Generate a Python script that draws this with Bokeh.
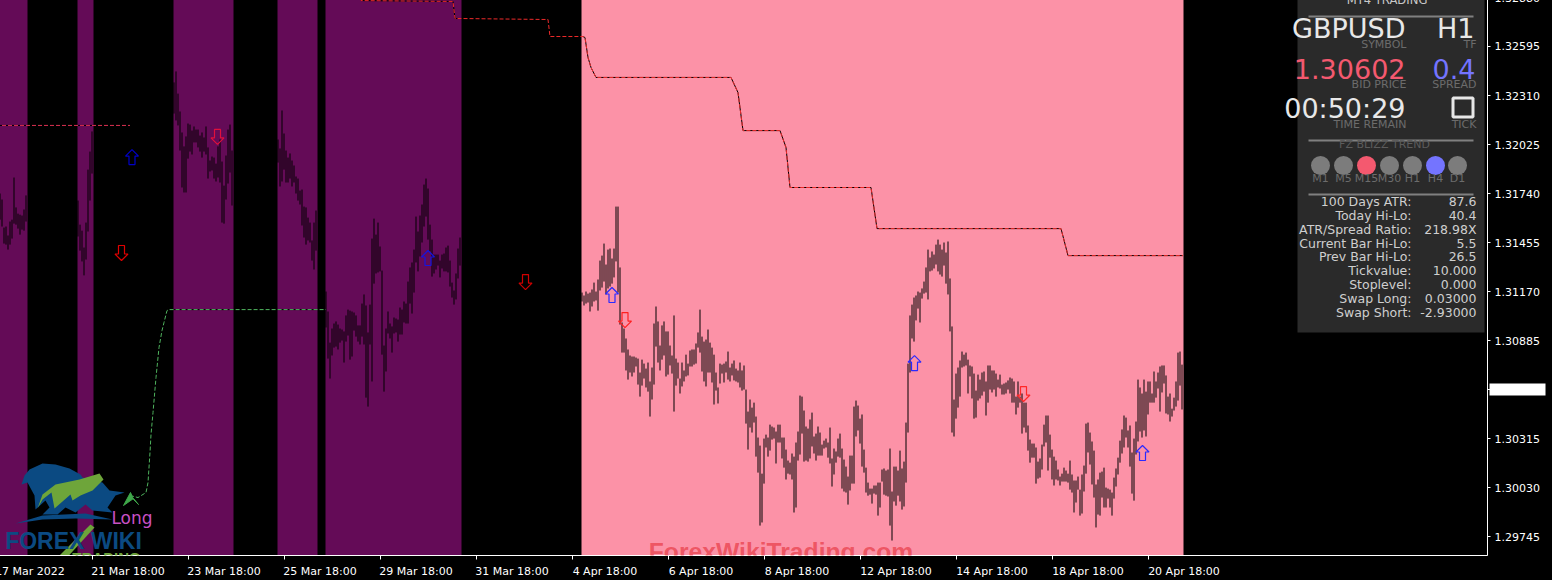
from bokeh.embed import file_html
from bokeh.resources import INLINE
from bokeh.plotting import figure
from bokeh.models import Range1d, FixedTicker, Label, Span, PrintfTickFormatter
import numpy as np

# All prices below are stored as points above 1.29000 (1 point = 0.00001)
BASE = 1.29
PT = 1e-5

session_start = [0, 41, 89, 141, 165, 293]
session_end = [16, 49, 119, 161, 233, 594]
session_color = ["#640b57", "#640b57", "#640b57", "#640b57", "#640b57", "#fc92a7"]

a_start = 0
a_high = [2594,2723,2740,2705,2542,2548,2496,2577,2588,2833,2659,2623,2617,2612,2647,2729]
a_low = [2472,2472,2588,2548,2449,2443,2414,2443,2478,2565,2559,2536,2501,2530,2524,2577]

b_start = 41
b_high = [2699,2559,2524,2426,2571,2879,2984,3101]
b_low = [2490,2408,2345,2264,2356,2519,2699,2856]

c_start = 89
c_high = [3386,3450,3321,3217,3095,3014,3072,3147,3141,3106,3130,3112,3112,3077,3095,3066,3130,3008,2932,2955,2949,2914,3014,3054,2926,2786,2961,3112,3141,2990]
c_low = [3205,3165,3136,2990,2775,2746,2746,2943,2984,2967,3037,3037,3008,2984,2949,2984,2967,2827,2868,2874,2827,2810,2833,2804,2571,2565,2705,2798,2862,2670]

d_start = 141
d_high = [3054,3002,3223,3089,2990,2949,2973,2932,2903,2839,2827,2757,2763,2664,2659,2600,2571,2467,2571,2641]
d_low = [2920,2781,2810,2879,2804,2804,2827,2781,2804,2740,2699,2676,2554,2484,2443,2467,2455,2350,2298,2408]

e_start = 165
e_high = [2170,2054,1873,1955,1984,1996,1978,1955,1949,1938,2031,2065,2059,2054,2048,2031,1973,1973,2100,2153,2089,1932,2094,2478,2594,2501,2571,2432,2292,1856,1955,2054,1984,1967,2019,2013,2007,2077,2065,2112,2100,2228,2310,2339,2414,2606,2519,2612,2676,2792,2827,2769,2559,2472,2385,2385,2385,2350,2385,2391,2426,2437,2350,2222,2176,2275,2420,2484]
e_low = [1961,1780,1664,1798,1844,1850,1833,1873,1885,1757,1879,1914,1774,1792,1943,1908,1879,1862,1908,1862,1553,1501,1862,1647,2216,2275,2281,2287,1803,1588,1705,1926,1897,1815,1926,1932,1879,1920,1920,1990,1984,1984,2100,2042,2164,2339,2287,2374,2455,2548,2606,2472,2403,2257,2275,2298,2321,2252,2304,2287,2287,2281,2199,2135,2094,2124,2246,2321]

f_start = 293
f_high = [2164,2147,2170,2158,2164,2182,2222,2170,2240,2350,2379,2449,2327,2414,2420,2362,2420,2664,2664,2310,
1990,1955,1897,1833,1798,1792,1792,1786,1780,1699,1774,1751,1722,1757,1647,1728,1984,2083,1996,1856,
1973,1996,1938,1938,1856,1798,2031,1780,1757,1664,1757,1711,1803,1751,1827,1833,1833,1868,1932,2065,
1908,1879,1891,1949,1873,1844,1803,1699,1612,1751,1745,1751,1763,1821,1728,1751,1769,1722,1711,1757,
1711,1740,1600,1472,1542,1495,1524,1443,1321,1274,1111,1315,1338,1321,1396,1385,1379,1356,1396,1396,
1321,1321,1251,1187,1175,1228,1210,1292,1356,1565,1559,1478,1385,1373,1426,1466,1327,1344,1385,1350,
1280,1303,1315,1292,1379,1199,1257,1240,1315,1344,1257,1193,1152,1094,1216,1216,1501,1536,1507,1431,
1455,1251,1146,1059,1024,1024,1042,1042,1059,1059,1135,1141,1129,1135,1257,1007,1152,1152,1129,1245,
1141,1181,1408,1751,2031,2094,2135,2147,2170,2164,2188,2228,2310,2414,2368,2403,2385,2443,2472,2443,
2414,2455,2397,2461,2246,1967,1542,1693,1728,1769,1821,1803,1815,1774,1740,1734,1693,1594,1687,1658,
1699,1705,1647,1740,1740,1711,1711,1693,1658,1687,1629,1635,1641,1653,1670,1664,1647,1559,1647,1559,
1577,1524,1524,1391,1309,1286,1286,1263,1181,1199,1280,1396,1449,1449,1338,1251,1210,1187,1135,1094,
1111,1146,1129,1111,1187,1106,1071,1071,1094,1018,1106,1158,1402,1408,1350,1298,1245,1048,1077,1117,
1123,1146,1030,1024,1018,1001,1088,1141,1204,1303,1368,1449,1437,1362,1391,1234,1315,1414,1658,1612,
1577,1658,1588,1647,1647,1577,1705,1647,1699,1734,1740,1740,1682,1559,1577,1489,1553,1647,1815,1821,1745]
f_low = [2112,2089,2100,2106,2054,2083,2112,2118,2059,2176,2193,2228,2153,2188,2199,2216,2252,2345,2164,1978,
1815,1815,1711,1658,1699,1676,1699,1734,1629,1559,1623,1664,1612,1588,1443,1542,1629,1850,1757,1711,
1774,1798,1676,1687,1740,1693,1472,1623,1664,1577,1618,1647,1676,1682,1734,1734,1745,1751,1844,1815,
1705,1647,1618,1699,1699,1641,1513,1594,1519,1635,1693,1641,1699,1658,1647,1682,1653,1647,1641,1612,
1594,1600,1402,1251,1379,1350,1408,1210,1117,809,827,1053,1263,1210,1245,1309,1315,1170,1292,1292,
1199,1146,1077,1111,1106,1077,885,914,1187,1222,1344,1181,1187,1181,1199,1269,1228,1187,1216,1216,
1216,1257,1263,1204,1170,1036,1106,1175,1210,1204,1024,1007,1001,931,1013,1053,1053,1327,1362,1286,
1152,1117,1001,983,989,937,995,989,867,914,1065,989,983,978,809,722,949,925,983,949,
902,920,1059,1350,1699,1897,1879,2002,2071,1990,2129,2158,2164,2124,2287,2292,2304,2327,2287,2269,
2257,2321,2216,2153,1938,1350,1327,1431,1495,1559,1728,1734,1740,1577,1676,1548,1431,1437,1536,1548,
1565,1588,1449,1524,1600,1583,1600,1559,1612,1606,1571,1571,1577,1600,1577,1524,1524,1455,1495,1524,
1344,1379,1350,1245,1175,1204,1204,1053,1082,1088,1135,1269,1292,1129,1204,1077,1042,1077,1071,1042,
1065,1065,1065,1059,1018,1001,885,943,1018,867,879,1007,1111,1234,1164,1048,972,798,873,867,
972,914,914,966,914,867,966,1036,1106,1175,1228,1263,1321,1263,1152,995,954,1222,1298,1356,
1321,1362,1327,1455,1524,1524,1524,1553,1606,1472,1583,1635,1461,1455,1414,1443,1478,1501,1536,1623,1484]

# Stop-line indicator, as three runs of (bar, price)
trend_red_idx = [0, 67]
trend_red_px = [3136, 3136]
trend_green_idx = [67, 71, 75, 76, 77, 77.5, 78.5, 80, 81.5, 83, 84, 85.5, 86.5, 165]
trend_green_px = [984, 972, 1001, 1059, 1234, 1338, 1466, 1670, 1844, 1943, 1990, 2059, 2065, 2065]
trend_upper_idx = [181.5, 182.5, 228.5, 229.5, 276, 277, 293.5, 294.5, 296, 297.5, 300, 367.5, 371, 373.5, 392, 395, 397, 437.5, 440.5, 532.5, 536, 593.5]
trend_upper_px = [3909, 3862, 3857, 3758, 3752, 3653, 3653, 3647, 3531, 3473, 3415, 3415, 3327, 3106, 3106, 3008, 2775, 2775, 2536, 2536, 2379, 2379]

up_idx = [68, 216, 308, 459.25, 573.25]
up_px = [2952, 2365, 2150, 1754, 1231]
up_color = ["#0000c8", "#1414e0", "#2a2aff", "#2a2aff", "#2a2aff"]
down_idx = [62.75, 110.75, 264.75, 314.5, 513.75]
down_px = [2394, 3069, 2225, 2004, 1574]
down_color = ["#e00000", "#e0103c", "#d00000", "#ff2020", "#ff2828"]

x_tick_idx = [0, 48, 96, 144, 192, 240, 288, 336, 384, 432, 480, 528, 576]
x_label_centre = [17, 66, 114, 162, 210, 258, 304.5, 352.5, 400.5, 450, 498, 546, 594]
x_labels = ["17 Mar 2022", "21 Mar 18:00", "23 Mar 18:00", "25 Mar 18:00", "29 Mar 18:00", "31 Mar 18:00",
            "4 Apr 18:00", "6 Apr 18:00", "8 Apr 18:00", "12 Apr 18:00", "14 Apr 18:00", "18 Apr 18:00", "20 Apr 18:00"]
y_ticks = [1.32880, 1.32595, 1.32310, 1.32025, 1.31740, 1.31455, 1.31170, 1.30885, 1.30315, 1.30030, 1.29745]
last_price = 1.30602

stat_names = ["100 Days ATR:", "Today Hi-Lo:", "ATR/Spread Ratio:", "Current Bar Hi-Lo:", "Prev Bar Hi-Lo:",
              "Tickvalue:", "Stoplevel:", "Swap Long:", "Swap Short:"]
stat_values = ["87.6", "40.4", "218.98X", "5.5", "26.5", "10.000", "0.000", "0.03000", "-2.93000"]
tf_names = ["M1", "M5", "M15", "M30", "H1", "H4", "D1"]
tf_colors = ["#7c7c7c", "#7c7c7c", "#f4596f", "#7c7c7c", "#7c7c7c", "#7474ff", "#7c7c7c"]

FRAME_W, FRAME_H = 1492, 563
Y0, Y1 = 1.29635, 1.32909
X0, X1 = -0.25, 745.75

p = figure(width=1560, height=583, frame_width=FRAME_W, frame_height=FRAME_H,
           x_range=Range1d(X0, X1), y_range=Range1d(Y0, Y1),
           y_axis_location="right", toolbar_location=None, output_backend="svg",
           background_fill_color="#000000", border_fill_color="#000000",
           min_border_left=3, min_border_right=65, min_border_top=0, min_border_bottom=20,
           outline_line_color=None, margin=(-8, 0, 0, -8))
p.xgrid.visible = False
p.ygrid.visible = False
p.extra_x_ranges["px"] = Range1d(3, 3 + FRAME_W)
p.extra_y_ranges["px"] = Range1d(FRAME_H, 0)
PXK = dict(x_range_name="px", y_range_name="px")

xa = p.xaxis[0]
xa.ticker = FixedTicker(ticks=x_label_centre, minor_ticks=x_tick_idx)
xa.major_label_overrides = dict(zip(x_label_centre, x_labels))
xa.major_tick_line_color = None
xa.major_tick_in = 0
xa.major_tick_out = 0
xa.minor_tick_line_color = "#ffffff"
xa.minor_tick_in = 0
xa.minor_tick_out = 4
xa.axis_line_color = "#ffffff"
xa.major_label_text_color = "#ffffff"
xa.major_label_text_font = "DejaVu Sans"
xa.major_label_text_font_size = "11px"
xa.major_label_standoff = 5

ya = p.yaxis[0]
ya.ticker = FixedTicker(ticks=y_ticks, minor_ticks=[last_price])
ya.formatter = PrintfTickFormatter(format="%.5f")
ya.major_tick_line_color = "#ffffff"
ya.major_tick_in = 0
ya.major_tick_out = 3
ya.minor_tick_line_color = "#ffffff"
ya.minor_tick_in = 0
ya.minor_tick_out = 3
ya.axis_line_color = "#ffffff"
ya.major_label_text_color = "#ffffff"
ya.major_label_text_font = "DejaVu Sans"
ya.major_label_text_font_size = "11px"
ya.major_label_standoff = 4

p.add_layout(Span(location=2.5, dimension="height", line_color="#ffffff", line_width=1, x_range_name="px"))

# sessions
half = 0.25
p.quad(left=[s - half for s in session_start], right=[e - half for e in session_end],
       bottom=Y0, top=Y1, fill_color=session_color, line_color=None)

# high-low bars
for start, hi, lo in [(a_start, a_high, a_low), (b_start, b_high, b_low), (c_start, c_high, c_low),
                      (d_start, d_high, d_low), (e_start, e_high, e_low), (f_start, f_high, f_low)]:
    idx = start + np.arange(len(hi))
    p.segment(x0=idx, x1=idx, y0=BASE + np.array(hi) * PT, y1=BASE + np.array(lo) * PT,
              line_color="#000000", line_width=1)

# indicator line
for xs, ys, col in [(trend_red_idx, trend_red_px, "#dc3050"),
                    (trend_green_idx, trend_green_px, "#4fb45e"),
                    (trend_upper_idx, trend_upper_px, "#ee2a2a")]:
    yv = BASE + np.array(ys) * PT
    p.line(xs, yv, line_color="#000000", line_width=1)
    p.line(xs, yv, line_color=col, line_width=1, line_dash="4 2")

# signal arrows, shape given in screen pixels around the reading
px_x = (X1 - X0) / FRAME_W
px_y = (Y1 - Y0) / FRAME_H
up_sx = [0, 6.5, 3, 3, -3, -3, -6.5]
up_sy = [7.5, 1, 1, -7.5, -7.5, 1, 1]
for i, pr, col in zip(up_idx, up_px, up_color):
    p.patch([i + s * px_x for s in up_sx], [BASE + pr * PT + s * px_y for s in up_sy],
            fill_alpha=0, line_color=col, line_width=1.2)
for i, pr, col in zip(down_idx, down_px, down_color):
    p.patch([i + s * px_x for s in up_sx], [BASE + pr * PT - s * px_y for s in up_sy],
            fill_alpha=0, line_color=col, line_width=1.2)

def T(x, y, text, size, color, align="left", font="DejaVu Sans", style="normal", alpha=1.0):
    p.add_layout(Label(x=x, y=y, text=text, text_font=font, text_font_size=f"{size}px", text_color=color,
                       text_align=align, text_baseline="middle", text_font_style=style, text_alpha=alpha, **PXK))

# logo
BLUE = "#0b4a82"
GREEN = "#6ea53a"
p.patch([29, 32, 37, 50, 63, 77, 88, 90, 110, 117, 132, 123, 115, 120, 100, 93, 83, 73, 65, 50, 57, 53, 43, 42, 35],
        [492, 483, 477, 471, 472, 476, 482, 485, 490, 498, 500, 503, 515, 520, 518, 512, 520, 515, 522, 522, 515, 508, 517, 503, 490],
        fill_color=BLUE, line_color=None, **PXK)
p.patch([23, 50, 93, 120, 83, 50], [531, 523, 521, 527, 526, 527], fill_color=BLUE, line_color=None, **PXK)
p.patch([45, 50, 63, 87, 107, 111, 100, 88, 80, 78, 62, 59, 50],
        [516, 502, 492, 487, 481, 487, 498, 503, 508, 502, 516, 500, 507],
        fill_color=GREEN, line_color=None, **PXK)
p.patch([63, 98, 102, 70], [567, 532, 535, 570], fill_color=GREEN, line_color=None, **PXK)
T(81, 548, "FOREX WIKI", 23, BLUE, "center", "Liberation Sans", "bold")
T(114, 565, "TRADING", 15, GREEN, "center", "Liberation Sans", "bold")
p.patch([138, 131, 141, 146, 141], [500, 513, 506, 512, 507], fill_color="#3fa84a", line_color="#3fa84a", **PXK)
T(139.5, 525, "Long", 17, "#c850c4", "center")
T(788.5, 559, "ForexWikiTrading.com", 24.7, "#e6323c", "center", "Liberation Sans", "bold", 0.65)

# info panel
p.quad(left=1305, right=1492, top=0, bottom=340, fill_color="#2a2a2a", line_color=None, **PXK)
p.segment(x0=[1316] * 3, x1=[1481] * 3, y0=[24, 148, 202], y1=[24, 148, 202], line_color="#808080", line_width=2, **PXK)
WHITE = "#e8e8e8"
GREY = "#6c6c6c"
T(1394.5, 7, "MT4 TRADING", 11.6, "#c8c8c8", "center")
T(1413, 36, "GBPUSD", 27, WHITE, "right")
T(1482, 36, "H1", 27, WHITE, "right")
T(1414, 52, "SYMBOL", 11, GREY, "right")
T(1484, 52, "TF", 11, GREY, "right")
T(1413, 76, "1.30602", 27, "#f4596f", "right")
T(1483, 76, "0.4", 27, "#7474ff", "right")
T(1414, 92, "BID PRICE", 11, GREY, "right")
T(1484, 92, "SPREAD", 11, GREY, "right")
T(1413, 116, "00:50:29", 27, WHITE, "right")
T(1414, 132, "TIME REMAIN", 11, GREY, "right")
T(1484, 132, "TICK", 11, GREY, "right")
p.quad(left=1460.5, right=1480.5, top=105.5, bottom=124.5, fill_alpha=0, line_color=WHITE, line_width=3, **PXK)
T(1392, 152, "FZ BLIZZ TREND", 11, "#5c5c5c", "center")
tf_x = [1328, 1351, 1374, 1397, 1420, 1443, 1465]
p.scatter(tf_x, [173] * 7, size=19, fill_color=tf_colors, line_color=None, **PXK)
for x, name in zip(tf_x, tf_names):
    T(x, 185.5, name, 11, GREY, "center")
row_y = [209, 223, 237, 250.5, 264, 278, 292, 306, 320]
for y, n, v in zip(row_y, stat_names, stat_values):
    T(1419, y, n, 12.5, "#cfcfcf", "right")
    T(1484, y, v, 12.5, "#cfcfcf", "right")

# last price tag
p.quad(left=1497, right=1553, top=391, bottom=403, fill_color="#ffffff", line_color=None, level="annotation", **PXK)
p.add_layout(Label(x=1502, y=397, text="1.30602", text_font="DejaVu Sans", text_font_size="11px", text_color="#000000",
                   text_align="left", text_baseline="middle", background_fill_color="#ffffff", **PXK))

open("out.html", "w").write(file_html(p, INLINE))
